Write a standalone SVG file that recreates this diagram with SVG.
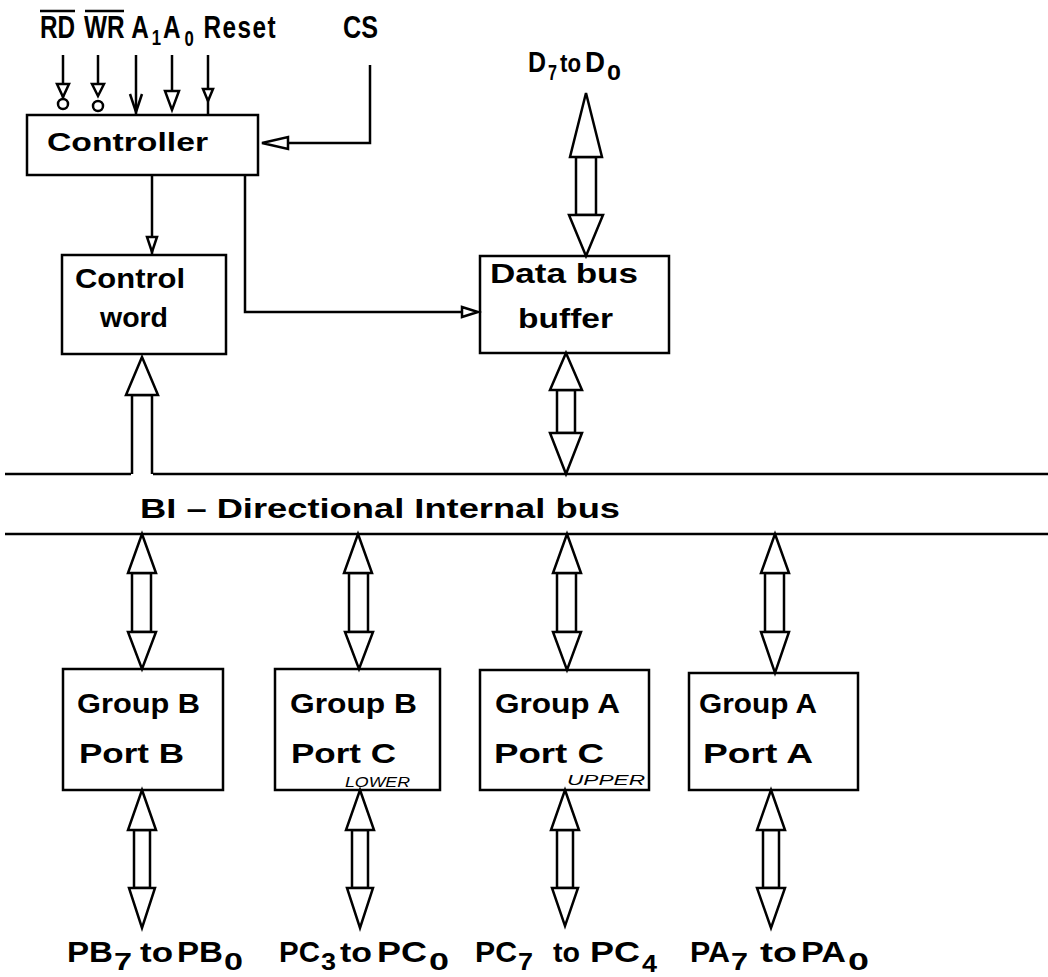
<svg xmlns="http://www.w3.org/2000/svg" width="1048" height="977" viewBox="0 0 1048 977">
<style>
.box{fill:#fff;stroke:#000;stroke-width:2.5}
.ln{fill:none;stroke:#000;stroke-width:2.5}
.ar{fill:#fff;stroke:#000;stroke-width:2.5;stroke-linejoin:miter}
.t{font-family:"Liberation Sans",Arial,sans-serif;font-weight:700;fill:#000}
.s{font-family:"Liberation Sans",Arial,sans-serif;font-style:italic;fill:#000}
</style>
<rect width="1048" height="977" fill="#fff"/>
<g id="bus">
<line class="ln" x1="5" y1="474" x2="131" y2="474"/>
<line class="ln" x1="153" y1="474" x2="1048" y2="474"/>
<line class="ln" x1="5" y1="534" x2="1048" y2="534"/>
<text class="t" x="140" y="518" font-size="28" textLength="480" lengthAdjust="spacingAndGlyphs">BI – Directional Internal bus</text>
</g>
<g id="controller">
<rect class="box" x="27" y="115" width="231" height="60"/>
<text class="t" x="47" y="151" font-size="25" textLength="161" lengthAdjust="spacingAndGlyphs">Controller</text>
</g>
<g id="control-word">
<rect class="box" x="62" y="255" width="164" height="99"/>
<text class="t" x="75" y="288" font-size="28" textLength="110" lengthAdjust="spacingAndGlyphs">Control</text>
<text class="t" x="100" y="327" font-size="28" textLength="68" lengthAdjust="spacingAndGlyphs">word</text>
</g>
<g id="data-bus-buffer">
<rect class="box" x="480" y="256" width="189" height="97"/>
<text class="t" x="490" y="283" font-size="28" textLength="148" lengthAdjust="spacingAndGlyphs">Data bus</text>
<text class="t" x="518" y="328" font-size="28" textLength="95" lengthAdjust="spacingAndGlyphs">buffer</text>
</g>
<g id="group-b-port-b">
<rect class="box" x="63" y="669" width="160" height="121"/>
<text class="t" x="77" y="713" font-size="28" textLength="123" lengthAdjust="spacingAndGlyphs">Group B</text>
<text class="t" x="79" y="763" font-size="28" textLength="105" lengthAdjust="spacingAndGlyphs">Port  B</text>
</g>
<g id="group-b-port-c">
<rect class="box" x="275" y="669" width="165" height="121"/>
<text class="t" x="290" y="713" font-size="28" textLength="127" lengthAdjust="spacingAndGlyphs">Group B</text>
<text class="t" x="291" y="763" font-size="28" textLength="105" lengthAdjust="spacingAndGlyphs">Port  C</text>
<text class="s" x="345" y="787" font-size="14" textLength="65" lengthAdjust="spacingAndGlyphs">LOWER</text>
</g>
<g id="group-a-port-c">
<rect class="box" x="480" y="670" width="169" height="120"/>
<text class="t" x="495" y="713" font-size="28" textLength="125" lengthAdjust="spacingAndGlyphs">Group A</text>
<text class="t" x="494" y="763" font-size="28" textLength="110" lengthAdjust="spacingAndGlyphs">Port  C</text>
<text class="s" x="567" y="785" font-size="14" textLength="78" lengthAdjust="spacingAndGlyphs">UPPER</text>
</g>
<g id="group-a-port-a">
<rect class="box" x="689" y="673" width="169" height="117"/>
<text class="t" x="699" y="713" font-size="28" textLength="118" lengthAdjust="spacingAndGlyphs">Group A</text>
<text class="t" x="703" y="763" font-size="28" textLength="110" lengthAdjust="spacingAndGlyphs">Port  A</text>
</g>
<g id="labels">
<text class="t" font-size="32" transform="translate(40,38) scale(0.76,1)"><tspan x="0" y="0">RD</tspan><tspan x="58" y="0">WR</tspan><tspan x="120" y="0">A</tspan><tspan x="147" y="7" font-size="22">1</tspan><tspan x="162" y="0">A</tspan><tspan x="190" y="8" font-size="22">0</tspan><tspan x="215" y="0" letter-spacing="2">Reset</tspan></text>
<line class="ln" x1="40" y1="11" x2="75" y2="11" stroke-width="2"/>
<line class="ln" x1="85" y1="11" x2="124" y2="11" stroke-width="2"/>
<text class="t" x="343" y="38" font-size="32" textLength="35" lengthAdjust="spacingAndGlyphs">CS</text>
<text class="t" x="528" y="72" font-size="30" textLength="18" lengthAdjust="spacingAndGlyphs">D</text>
<text class="t" x="548" y="80" font-size="22" textLength="9" lengthAdjust="spacingAndGlyphs">7</text>
<text class="t" x="560" y="72" font-size="26" textLength="21" lengthAdjust="spacingAndGlyphs">to</text>
<text class="t" x="585" y="72" font-size="30" textLength="20" lengthAdjust="spacingAndGlyphs">D</text>
<text class="t" x="607" y="80" font-size="22" textLength="14" lengthAdjust="spacingAndGlyphs">0</text>
<text class="t" x="67" y="962" font-size="30" textLength="46" lengthAdjust="spacingAndGlyphs">PB</text>
<text class="t" x="114" y="970" font-size="24" textLength="18" lengthAdjust="spacingAndGlyphs">7</text>
<text class="t" x="140" y="962" font-size="28" textLength="33" lengthAdjust="spacingAndGlyphs">to</text>
<text class="t" x="177" y="962" font-size="30" textLength="46" lengthAdjust="spacingAndGlyphs">PB</text>
<text class="t" x="224" y="970" font-size="24" textLength="19" lengthAdjust="spacingAndGlyphs">0</text>
<text class="t" x="279" y="962" font-size="30" textLength="41" lengthAdjust="spacingAndGlyphs">PC</text>
<text class="t" x="321" y="970" font-size="24" textLength="15" lengthAdjust="spacingAndGlyphs">3</text>
<text class="t" x="340" y="962" font-size="28" textLength="32" lengthAdjust="spacingAndGlyphs">to</text>
<text class="t" x="377" y="962" font-size="30" textLength="50" lengthAdjust="spacingAndGlyphs">PC</text>
<text class="t" x="429" y="970" font-size="24" textLength="20" lengthAdjust="spacingAndGlyphs">0</text>
<text class="t" x="475" y="962" font-size="30" textLength="42" lengthAdjust="spacingAndGlyphs">PC</text>
<text class="t" x="518" y="970" font-size="24" textLength="15" lengthAdjust="spacingAndGlyphs">7</text>
<text class="t" x="553" y="962" font-size="28" textLength="27" lengthAdjust="spacingAndGlyphs">to</text>
<text class="t" x="590" y="962" font-size="30" textLength="50" lengthAdjust="spacingAndGlyphs">PC</text>
<text class="t" x="642" y="972" font-size="24" textLength="15" lengthAdjust="spacingAndGlyphs">4</text>
<text class="t" x="690" y="962" font-size="30" textLength="40" lengthAdjust="spacingAndGlyphs">PA</text>
<text class="t" x="731" y="970" font-size="24" textLength="17" lengthAdjust="spacingAndGlyphs">7</text>
<text class="t" x="760" y="962" font-size="28" textLength="37" lengthAdjust="spacingAndGlyphs">to</text>
<text class="t" x="801" y="962" font-size="30" textLength="45" lengthAdjust="spacingAndGlyphs">PA</text>
<text class="t" x="848" y="970" font-size="24" textLength="21" lengthAdjust="spacingAndGlyphs">0</text>
</g>
<g id="connectors">
<line class="ln" x1="63" y1="55" x2="63" y2="98"/>
<path class="ar" d="M57,84 L69,84 L63,97 Z"/>
<circle class="ar" cx="63" cy="104" r="5"/>
<line class="ln" x1="98" y1="55" x2="98" y2="95"/>
<path class="ar" d="M92,84 L104,84 L98,96 Z"/>
<circle class="ar" cx="98" cy="106" r="5"/>
<line class="ln" x1="136" y1="55" x2="136" y2="115"/>
<path class="ln" d="M130,94 L136,112 L142,94"/>
<line class="ln" x1="172" y1="55" x2="172" y2="92"/>
<path class="ar" d="M165,91 L179,91 L172,110 Z"/>
<line class="ln" x1="208" y1="55" x2="208" y2="115"/>
<path class="ar" d="M203,89 L213,89 L208,101 Z"/>
<path class="ln" d="M370,65 L370,143 L288,143"/>
<path class="ar" d="M288,137 L288,149 L262,143 Z"/>
<line class="ln" x1="152" y1="175" x2="152" y2="255"/>
<path class="ar" d="M147,237 L157,237 L152,252 Z"/>
<path class="ln" d="M245,175 L245,312 L462,312"/>
<path class="ar" d="M462,307 L462,317 L478,312 Z"/>
<path class="ar" d="M576,157 L596,157 L596,215 L576,215 Z"/>
<path class="ar" d="M586,93 L602,157 L570,157 Z"/>
<path class="ar" d="M569,215 L603,215 L586,256 Z"/>
<path class="ar" d="M557,390 L575,390 L575,433 L557,433 Z"/>
<path class="ar" d="M566,353 L582,390 L550,390 Z"/>
<path class="ar" d="M550,433 L582,433 L566,474 Z"/>
<path class="ar" d="M132,474 L132,395 L152,395 L152,474"/>
<path class="ar" d="M142,357 L158,395 L126,395 Z"/>
<path class="ar" d="M132,573 L151,573 L151,632 L132,632 Z"/>
<path class="ar" d="M142,534 L156,573 L128,573 Z"/>
<path class="ar" d="M128,632 L156,632 L142,669 Z"/>
<path class="ar" d="M349,573 L368,573 L368,632 L349,632 Z"/>
<path class="ar" d="M358,534 L372,573 L344,573 Z"/>
<path class="ar" d="M345,632 L373,632 L359,669 Z"/>
<path class="ar" d="M557,573 L576,573 L576,632 L557,632 Z"/>
<path class="ar" d="M567,534 L581,573 L553,573 Z"/>
<path class="ar" d="M553,632 L581,632 L567,670 Z"/>
<path class="ar" d="M765,573 L784,573 L784,632 L765,632 Z"/>
<path class="ar" d="M775,534 L789,573 L761,573 Z"/>
<path class="ar" d="M761,632 L789,632 L775,673 Z"/>
<path class="ar" d="M134,830 L150,830 L150,888 L134,888 Z"/>
<path class="ar" d="M142,790 L156,830 L128,830 Z"/>
<path class="ar" d="M129,888 L155,888 L142,928 Z"/>
<path class="ar" d="M352,830 L368,830 L368,888 L352,888 Z"/>
<path class="ar" d="M360,790 L374,830 L346,830 Z"/>
<path class="ar" d="M347,888 L373,888 L360,928 Z"/>
<path class="ar" d="M557,830 L573,830 L573,888 L557,888 Z"/>
<path class="ar" d="M565,790 L579,830 L551,830 Z"/>
<path class="ar" d="M552,888 L578,888 L565,926 Z"/>
<path class="ar" d="M763,830 L779,830 L779,888 L763,888 Z"/>
<path class="ar" d="M771,790 L785,830 L757,830 Z"/>
<path class="ar" d="M757,888 L785,888 L771,928 Z"/>
</g>
</svg>
